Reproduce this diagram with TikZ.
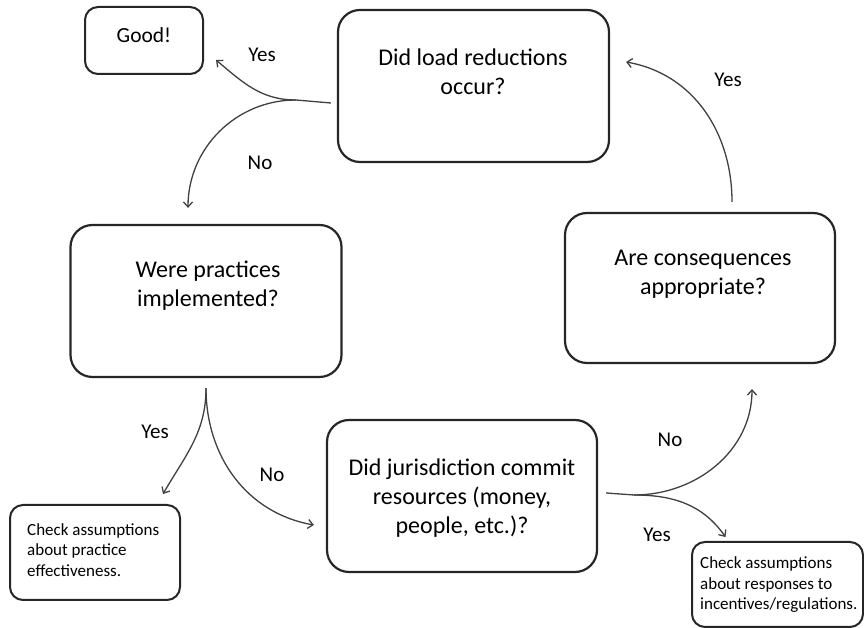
\documentclass[tikz,border=0pt]{standalone}
\usepackage{fontspec}
\setmainfont{Carlito}
\usetikzlibrary{arrows.meta}
\tikzset{
    box/.style={draw=black!85, line width=2.2pt, rounded corners=22pt,
    	minimum width=271pt, minimum height=152pt, inner sep=0pt},
    smallbox/.style={box, rounded corners=13pt, line width=2pt}
}
\tikzset{
    bigtxt/.style={align=center, inner sep=0pt, font=\fontsize{24}{29}\selectfont},
    smalltxt/.style={align=left, inner sep=0pt, anchor=west,
    	font=\fontsize{17}{20.5}\selectfont},
    lbl/.style={inner sep=0pt, font=\fontsize{21}{25}\selectfont}
}
\tikzset{
    stem/.style={draw=black!75, line width=1.3pt},
    arr/.style={stem, -{Straight Barb[length=5pt,width=9pt]}}
}

\begin{document}
\begin{tikzpicture}[x=1pt, y=1pt]
  \useasboundingbox (0,0) rectangle (864,628);

  % boxes
  \node (good) [smallbox, minimum width=118pt, minimum height=67pt] at (144, 587.5) {};
  \node (load) [box] at (473.5, 542) {};
  \node (pract) [box] at (206, 327) {};
  \node (conseq) [box, minimum width=270pt, minimum height=150pt] at (700, 340) {};
  \node (juris) [box, minimum width=270pt] at (462, 132) {};
  \node (chk1) [smallbox, minimum width=170pt, minimum height=95pt] at (95, 75.5) {};
  \node (chk2) [smallbox, minimum width=171pt, minimum height=85pt] at (777.5, 43.5) {};

  % box texts
  \node (goodtxt) [lbl, font=\fontsize{21.5}{25}\selectfont] at (144, 593) {Good!};
  \node (loadtxt) [bigtxt] at (473, 556) {Did load reductions\\occur?};
  \node (practtxt) [bigtxt] at (208, 342) {Were practices\\implemented?};
  \node (conseqtxt) [bigtxt] at (703, 354) {Are consequences\\appropriate?};
  \node (juristxt) [bigtxt] at (462, 130) {Did jurisdiction commit\\resources (money,\\people, etc.)?};
  \node (chk1txt) [smalltxt] at (27, 78) {Check assumptions\\about practice\\effectiveness.};
  \node (chk2txt) [smalltxt] at (700, 43) {Check assumptions\\about responses to\\incentives/regulations.};

  % connectors
  \coordinate (j1) at ([shift={(-41,-14)}]load.west);
  \coordinate (j2) at ([yshift=-10]pract.south);
  \coordinate (j3) at ([shift={(36,1)}]juris.east);

  \draw [stem] ([shift={(-6,-17)}]load.west) -- (j1);
  \draw (j1) edge [arr, out=180, in=-40] ([shift={(12,15)}]good.south east);
  \draw (j1) edge [arr, out=180, in=90] ([shift={(-18,16)}]pract.north);
  \draw (j2) edge [arr, out=-90, in=60] ([shift={(68,10)}]chk1.north);
  \draw (j2) edge [arr, out=-90, in=170] ([shift={(-12,-29)}]juris.west);
  \draw [stem] ([shift={(8,3)}]juris.east) -- (j3);
  \draw (j3) edge [arr, out=0, in=-90] ([shift={(52,-25)}]conseq.south);
  \draw (j3) edge [arr, out=0, in=125] ([shift={(-52,4)}]chk2.north);
  \draw ([shift={(32,10)}]conseq.north) edge [arr, out=90, in=-10] ([shift={(16,24)}]load.east);

  % labels
  \node (yes1) [lbl] at (262, 573) {Yes};
  \node (no1) [lbl] at (260, 465) {No};
  \node (yes2) [lbl] at (155, 196) {Yes};
  \node (no2) [lbl] at (272, 153) {No};
  \node (no3) [lbl] at (670, 188) {No};
  \node (yes3) [lbl] at (657, 93) {Yes};
  \node (yes4) [lbl] at (728, 548) {Yes};
\end{tikzpicture}
\end{document}
